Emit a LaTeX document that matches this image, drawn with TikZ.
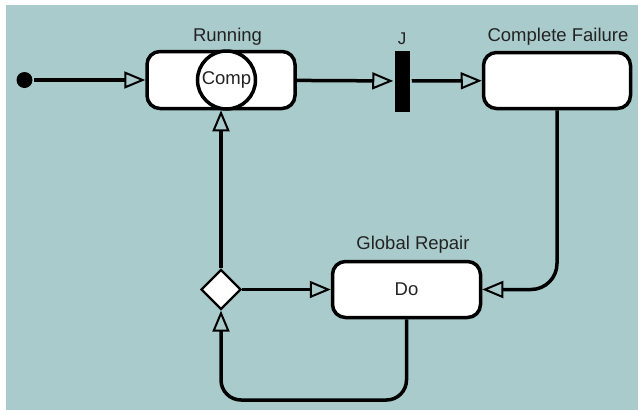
\documentclass[tikz,border=0pt]{standalone}
\usepackage{fontspec}
\setmainfont{Liberation Sans}
\usetikzlibrary{arrows.meta,shapes.geometric}
\definecolor{bgteal}{RGB}{170,203,203}
\definecolor{inkgrey}{RGB}{35,35,35}

\begin{document}
\begin{tikzpicture}[x=1pt,y=-1pt,line width=3.5pt,
  every node/.style={font=\fontsize{18.5}{20}\selectfont,text=inkgrey},
  state/.style={draw,fill=white,rounded corners=13pt,minimum width=148pt,minimum height=57pt,inner sep=0pt},
  title/.style={anchor=base,inner sep=0pt},
  flow/.style={-{Triangle[open,length=21pt,width=17pt,line width=2pt]}}]

\useasboundingbox (0,0) rectangle (638,410);
\fill[white] (0,0) rectangle (638,410);
\fill[bgteal] (6,5) rectangle (638,410);

\node[circle,fill=black,minimum size=16pt,inner sep=0pt] (start) at (24.5,80) {};
\node[state] (run) at (221,80) {};
\node[circle,draw,fill=white,minimum size=58pt,inner sep=0pt] (comp) at (226.5,80) {Comp};
\node[fill=black,minimum width=15pt,minimum height=61pt,inner sep=0pt] (jn) at (402.5,81) {};
\node[state,minimum width=147pt,minimum height=56pt] (cf) at (557,80.5) {};
\node[state,minimum height=56pt] (rep) at (406.5,289.5) {Do};
\node[diamond,draw,fill=white,line width=2.2pt,minimum size=40pt,inner sep=0pt] (dec) at (221,289.5) {};
\coordinate (loop) at (221,400);

\node[title] (runlbl) at (227.5,41.5) {Running};
\node[title,font=\fontsize{17}{19}\selectfont] (jlbl) at (402,44) {J};
\node[title] (cflbl) at (558,41.5) {Complete Failure};
\node[title] (replbl) at (413,249.5) {Global Repair};

\draw[flow] (start) -- (run);
\draw[flow] (run) -- (jn);
\draw[flow] (jn) -- (cf);
\draw[flow,rounded corners=26pt] (cf) |- (rep);
\draw[flow] (dec) -- (rep);
\draw[flow] (dec) -- (run);
\draw[flow,rounded corners=20pt] (rep) |- (loop) -- (dec);

\end{tikzpicture}
\end{document}
